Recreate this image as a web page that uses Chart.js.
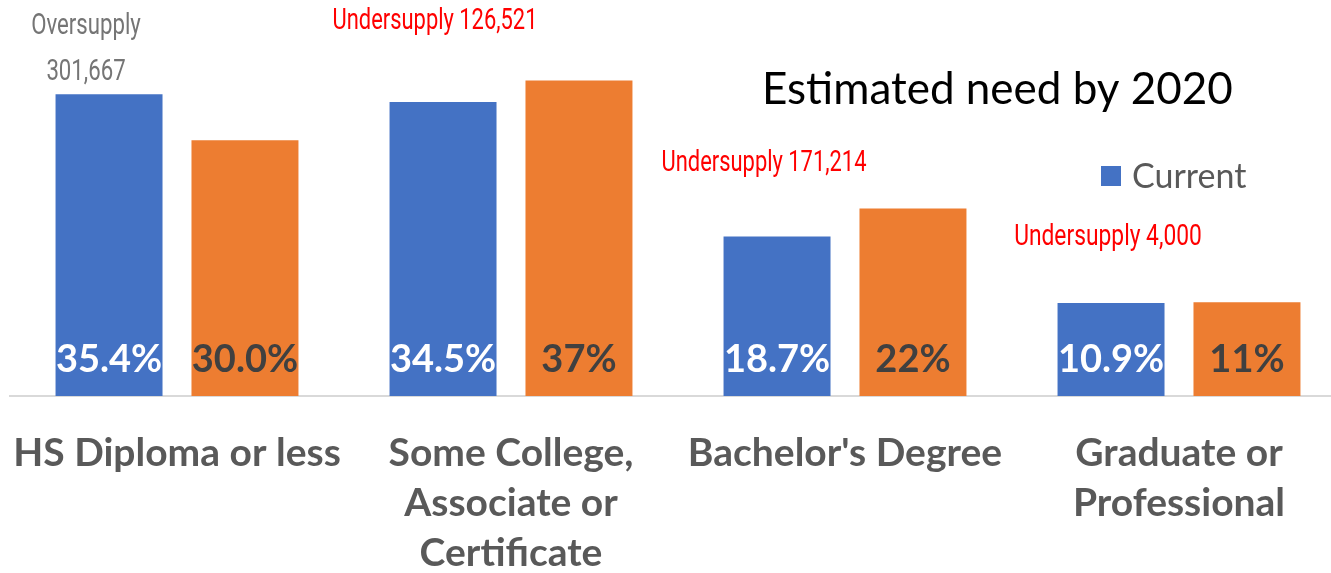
<!DOCTYPE html>
<html>
<head>
<meta charset="utf-8">
<script src="https://cdn.jsdelivr.net/npm/chart.js@4"></script>
<style>
  html, body { margin: 0; padding: 0; background: #fff; overflow: hidden; }
  #wrap { width: 1346px; height: 573px; }
</style>
</head>
<body>
<div id="wrap"><canvas id="edu" width="1346" height="573"></canvas></div>
<script>
const categories = [
  'HS Diploma or less',
  ['Some College,', 'Associate or', 'Certificate'],
  "Bachelor's Degree",
  ['Graduate or', 'Professional']
];
const currentValues = [35.4, 34.5, 18.7, 10.9];
const neededValues = [30.0, 37, 22, 11];
const currentLabels = ['35.4%', '34.5%', '18.7%', '10.9%'];
const neededLabels = ['30.0%', '37%', '22%', '11%'];
const supplyNotes = [
  ['Oversupply', '301,667'],
  ['Undersupply 126,521'],
  ['Undersupply 171,214'],
  ['Undersupply 4,000']
];

const BLUE = '#4472C4';
const ORANGE = '#ED7D31';

// percent labels at the foot of each bar
const barLabels = {
  id: 'barLabels',
  afterDatasetsDraw(chart) {
    const ctx = chart.ctx;
    const base = chart.scales.y.getPixelForValue(0);
    ctx.save();
    ctx.font = 'bold 38px Lato';
    ctx.textAlign = 'center';
    ctx.textBaseline = 'middle';
    [currentLabels, neededLabels].forEach((labels, di) => {
      chart.getDatasetMeta(di).data.forEach((bar, i) => {
        ctx.fillStyle = di === 0 ? '#ffffff' : '#404040';
        ctx.fillText(labels[i], bar.x, base - 36);
      });
    });
    ctx.restore();
  }
};

// supply notes + legend drawn by hand
const notes = {
  id: 'notes',
  afterDraw(chart) {
    const ctx = chart.ctx;
    const x = chart.scales.x;
    const narrow = (txt, cx, y, color, sx) => {
      ctx.save();
      ctx.font = '30px Roboto';
      ctx.fillStyle = color;
      ctx.textAlign = 'center';
      ctx.textBaseline = 'alphabetic';
      ctx.translate(cx, y);
      ctx.scale(sx, 1);
      ctx.fillText(txt, 0, 0);
      ctx.restore();
    };
    const c0 = x.getPixelForValue(0);
    narrow(supplyNotes[0][0], c0 - 91, 34, '#757575', 0.74);
    narrow(supplyNotes[0][1], c0 - 91, 80, '#757575', 0.74);
    narrow(supplyNotes[1][0], x.getPixelForValue(1) - 76, 29, '#FF0000', 0.73);
    narrow(supplyNotes[2][0], x.getPixelForValue(2) - 81, 171, '#FF0000', 0.73);
    narrow(supplyNotes[3][0], x.getPixelForValue(3) - 71, 245, '#FF0000', 0.76);

    ctx.save();
    ctx.textBaseline = 'alphabetic';
    ctx.textAlign = 'left';
    ctx.fillStyle = '#000000';
    ctx.font = '44px Lato';
    ctx.fillText(chart.data.datasets[1].label, 762, 104);
    ctx.fillStyle = BLUE;
    ctx.fillRect(1101, 166, 20, 20);
    ctx.fillStyle = '#595959';
    ctx.font = '34px Lato';
    ctx.fillText(chart.data.datasets[0].label, 1132, 188);
    ctx.restore();
  }
};

new Chart(document.getElementById('edu'), {
  type: 'bar',
  data: {
    labels: categories,
    datasets: [
      {
        label: 'Current',
        data: currentValues,
        backgroundColor: BLUE,
        categoryPercentage: 0.814,
        barPercentage: 0.787
      },
      {
        label: 'Estimated need by 2020',
        data: neededValues,
        backgroundColor: ORANGE,
        categoryPercentage: 0.814,
        barPercentage: 0.787
      }
    ]
  },
  options: {
    responsive: false,
    animation: false,
    layout: { padding: { top: 55, left: 10, right: 0, bottom: 0 } },
    scales: {
      x: {
        grid: { display: false },
        border: { display: true, color: '#D9D9D9', width: 2 },
        ticks: {
          color: '#595959',
          font: { family: 'Lato', weight: 'bold', size: 39, lineHeight: 1.282 },
          maxRotation: 0,
          autoSkip: false,
          padding: 24
        },
        afterFit(scale) {
          scale.height = 177;
          scale.paddingLeft = 0;
          scale.paddingRight = 0;
        }
      },
      y: {
        display: false,
        min: 0,
        max: 40
      }
    },
    plugins: {
      legend: { display: false },
      tooltip: { enabled: false }
    }
  },
  plugins: [barLabels, notes]
});
</script>
</body>
</html>
